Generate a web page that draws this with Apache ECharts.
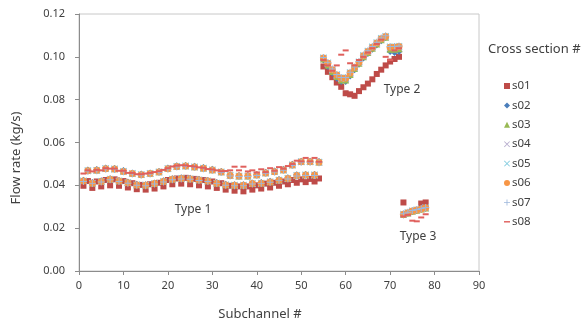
<!DOCTYPE html>
<html>
<head>
<meta charset="utf-8">
<script src="https://cdn.jsdelivr.net/npm/echarts@6/dist/echarts.min.js"></script>
<style>
  html, body { margin: 0; padding: 0; background: #fff; }
  #chart { width: 587px; height: 326px; }
</style>
</head>
<body>
<div id="chart"></div>
<script>
// subchannel numbers (type 1: 1-54, type 2: 55-72, type 3: 73-78)
const subchannels = [1,2,3,4,5,6,7,8,9,10,11,12,13,14,15,16,17,18,19,20,
  21,22,23,24,25,26,27,28,29,30,31,32,33,34,35,36,37,38,39,40,
  41,42,43,44,45,46,47,48,49,50,51,52,53,54,
  55,56,57,58,59,60,61,62,63,64,65,66,67,68,69,70,71,72,
  73,74,75,76,77,78];

const xTicks = [0, 10, 20, 30, 40, 50, 60, 70, 80, 90];
const yTicks = [0, 0.02, 0.04, 0.06, 0.08, 0.10, 0.12];

const s01 = [.0398,.0420,.0388,.0418,.0395,.0425,.0400,.0428,.0398,.0420,
  .0390,.0410,.0382,.0402,.0380,.0405,.0385,.0412,.0395,.0425,
  .0405,.0432,.0408,.0435,.0405,.0430,.0400,.0425,.0395,.0418,
  .0388,.0410,.0380,.0398,.0375,.0395,.0372,.0395,.0380,.0400,
  .0385,.0408,.0390,.0412,.0398,.0418,.0405,.0425,.0412,.0428,
  .0415,.0430,.0418,.0432,
  .0955,.0930,.0905,.0880,.0860,.0830,.0825,.0818,.0840,.0858,.0875,.0895,.0920,.0940,.0960,.0978,.0990,.1000,
  .0320,.0270,.0280,.0285,.0315,.0320];

const s02 = [.0424,.0472,.0413,.0474,.0421,.0481,.0431,.0479,.0423,.0469,
  .0415,.0458,.0405,.0453,.0403,.0458,.0411,.0465,.0421,.0481,
  .0431,.0491,.0435,.0493,.0433,.0489,.0428,.0483,.0423,.0475,
  .0413,.0465,.0405,.0449,.0403,.0446,.0403,.0446,.0411,.0451,
  .0413,.0461,.0419,.0467,.0427,.0475,.0435,.0498,.0449,.0513,
  .0451,.0513,.0451,.0511,
  .0985,.0955,.0925,.0900,.0885,.0885,.0910,.0940,.0965,.0995,.1015,.1035,.1055,.1075,.1090,.1025,.1020,.1025,
  .0262,.0270,.0278,.0283,.0288,.0293];

const s03 = [.0422,.0470,.0411,.0472,.0419,.0479,.0429,.0477,.0421,.0467,
  .0413,.0456,.0403,.0451,.0401,.0456,.0409,.0463,.0419,.0479,
  .0429,.0489,.0433,.0491,.0431,.0487,.0426,.0481,.0421,.0473,
  .0411,.0463,.0403,.0447,.0401,.0444,.0401,.0444,.0409,.0449,
  .0411,.0459,.0417,.0465,.0425,.0473,.0433,.0496,.0447,.0511,
  .0449,.0511,.0449,.0509,
  .0990,.0962,.0932,.0908,.0892,.0892,.0918,.0945,.0970,.1000,.1020,.1040,.1060,.1080,.1092,.1035,.1035,.1038,
  .0264,.0271,.0279,.0284,.0289,.0294];

const s04 = [.0419,.0467,.0409,.0469,.0417,.0477,.0427,.0475,.0419,.0464,
  .0411,.0454,.0401,.0449,.0399,.0454,.0407,.0461,.0417,.0477,
  .0427,.0487,.0431,.0489,.0429,.0485,.0424,.0479,.0419,.0471,
  .0409,.0461,.0401,.0445,.0399,.0442,.0399,.0442,.0407,.0447,
  .0409,.0457,.0415,.0463,.0423,.0471,.0431,.0494,.0445,.0509,
  .0447,.0509,.0447,.0507,
  .0993,.0968,.0938,.0913,.0898,.0898,.0923,.0948,.0973,.1003,.1023,.1043,.1063,.1083,.1093,.1043,.1043,.1046,
  .0264,.0271,.0279,.0284,.0289,.0294];

const s05 = [.0421,.0469,.0411,.0471,.0419,.0479,.0429,.0477,.0421,.0466,
  .0413,.0456,.0403,.0451,.0401,.0456,.0409,.0463,.0419,.0479,
  .0429,.0489,.0433,.0491,.0431,.0487,.0426,.0481,.0421,.0473,
  .0411,.0463,.0403,.0447,.0401,.0444,.0401,.0444,.0409,.0449,
  .0411,.0459,.0417,.0465,.0425,.0473,.0433,.0496,.0447,.0511,
  .0449,.0511,.0449,.0509,
  .0996,.0972,.0942,.0917,.0902,.0902,.0927,.0952,.0977,.1007,.1027,.1047,.1067,.1087,.1096,.1047,.1047,.1050,
  .0266,.0273,.0281,.0286,.0291,.0296];

const s06 = [.0420,.0468,.0410,.0470,.0418,.0478,.0428,.0476,.0420,.0465,
  .0412,.0455,.0402,.0450,.0400,.0455,.0408,.0462,.0418,.0478,
  .0428,.0488,.0432,.0490,.0430,.0486,.0425,.0480,.0420,.0472,
  .0410,.0462,.0402,.0446,.0400,.0443,.0400,.0443,.0408,.0448,
  .0410,.0458,.0416,.0464,.0424,.0472,.0432,.0495,.0446,.0510,
  .0448,.0510,.0448,.0508,
  .0995,.0970,.0940,.0915,.0900,.0900,.0925,.0950,.0975,.1005,.1025,.1045,.1065,.1085,.1095,.1045,.1045,.1048,
  .0265,.0272,.0280,.0285,.0290,.0295];

const s07 = [.0418,.0466,.0408,.0468,.0416,.0476,.0426,.0474,.0418,.0463,
  .0410,.0453,.0400,.0448,.0398,.0453,.0406,.0460,.0416,.0476,
  .0426,.0486,.0430,.0488,.0428,.0484,.0423,.0478,.0418,.0470,
  .0408,.0460,.0400,.0444,.0398,.0441,.0398,.0441,.0406,.0446,
  .0408,.0456,.0414,.0462,.0422,.0470,.0430,.0493,.0444,.0508,
  .0446,.0508,.0446,.0506,
  .0997,.0973,.0943,.0918,.0903,.0903,.0928,.0953,.0978,.1008,.1028,.1048,.1068,.1088,.1098,.1048,.1048,.1051,
  .0267,.0274,.0282,.0287,.0292,.0297];

const s08 = [.0455,.0470,.0465,.0472,.0470,.0480,.0478,.0478,.0468,.0468,
  .0458,.0458,.0452,.0452,.0455,.0458,.0462,.0466,.0472,.0480,
  .0488,.0492,.0494,.0493,.0490,.0488,.0484,.0482,.0476,.0474,
  .0470,.0466,.0467,.0470,.0487,.0470,.0487,.0465,.0470,.0460,
  .0475,.0462,.0480,.0468,.0485,.0478,.0490,.0500,.0515,.0512,
  .0528,.0512,.0528,.0510,
  .0985,.0960,.0935,.0960,.1010,.1030,.0970,.0960,.0985,.1000,.1020,.1040,.1060,.1080,.1000,.0985,.1030,.1040,
  .0255,.0262,.0235,.0232,.0250,.0265];

const seriesNames = ['s01', 's02', 's03', 's04', 's05', 's06', 's07', 's08'];
const seriesValues = [s01, s02, s03, s04, s05, s06, s07, s08];

const PLUS = 'path://M4.3,0H5.7V4.3H10V5.7H5.7V10H4.3V5.7H0V4.3H4.3Z';
const CROSS = 'path://M0,1L1,0L5,4L9,0L10,1L6,5L10,9L9,10L5,6L1,10L0,9L4,5Z';
const DASH = 'path://M0,0H10V2.4H0Z';

const markers = {
  s01: { symbol: 'rect', size: 6, color: '#BE4B48' },
  s02: { symbol: 'diamond', size: 7, color: '#4A7EBB' },
  s03: { symbol: 'triangle', size: 7, color: '#98B954' },
  s04: { symbol: CROSS, size: 7, color: '#B9AFCF' },
  s05: { symbol: CROSS, size: 7, color: '#86CDE0' },
  s06: { symbol: 'circle', size: 7, color: '#F79646' },
  s07: { symbol: PLUS, size: 7, color: '#9DB7DB' },
  s08: { symbol: DASH, size: [6, 2], color: '#E0605D' }
};

const textColor = '#404040';
const fontFamily = '"Noto Sans", "Open Sans", sans-serif';

const chart = echarts.init(document.getElementById('chart'), null, { renderer: 'canvas' });

const series = seriesNames.map((name, k) => ({
  name: name,
  type: 'scatter',
  symbol: markers[name].symbol,
  symbolSize: markers[name].size,
  itemStyle: { color: markers[name].color, opacity: 1 },
  emphasis: { disabled: true },
  animation: false,
  data: subchannels.map((x, i) => [x, seriesValues[k][i]])
}));

chart.setOption({
  backgroundColor: '#ffffff',
  animation: false,
  textStyle: { fontFamily: fontFamily },
  grid: {
    left: 79, right: 108, top: 14, bottom: 55,
    show: true, borderColor: '#C8C8C8', borderWidth: 1
  },
  xAxis: {
    type: 'value',
    min: xTicks[0], max: xTicks[xTicks.length - 1], interval: 10,
    axisLine: { show: true, lineStyle: { color: '#8C8C8C' } },
    axisTick: { show: true, length: 4, lineStyle: { color: '#8C8C8C' } },
    axisLabel: { color: textColor, fontSize: 11, margin: 9, fontFamily: fontFamily },
    splitLine: { show: false }
  },
  yAxis: {
    type: 'value',
    min: yTicks[0], max: yTicks[yTicks.length - 1], interval: 0.02,
    axisLine: { show: true, lineStyle: { color: '#8C8C8C' } },
    axisTick: { show: true, length: 4, lineStyle: { color: '#8C8C8C' } },
    axisLabel: {
      color: textColor, fontSize: 11, margin: 14, fontFamily: fontFamily,
      formatter: v => v.toFixed(2)
    },
    splitLine: { show: false }
  },
  legend: {
    orient: 'vertical',
    left: 499, top: 75,
    itemWidth: 6, itemHeight: 6, itemGap: 7.4,
    symbolKeepAspect: true,
    textStyle: { color: textColor, fontSize: 11.5, fontFamily: fontFamily, padding: [0, 0, 0, -3] },
    data: seriesNames.map(n => n === 's08' ? { name: n, icon: DASH } : { name: n })
  },
  graphic: [
    { type: 'text', left: 488, top: 43,
      style: { text: 'Cross section #', fill: textColor, font: '13px ' + fontFamily } },
    { type: 'text', x: 260, y: 314,
      style: { text: 'Subchannel #', fill: textColor, font: '13px ' + fontFamily, align: 'center', verticalAlign: 'middle' } },
    { type: 'text', x: 16, y: 158, rotation: Math.PI / 2,
      style: { text: 'Flow rate (kg/s)', fill: textColor, font: '13px ' + fontFamily, align: 'center', verticalAlign: 'middle' } },
    { type: 'text', x: 193, y: 210,
      style: { text: 'Type 1', fill: textColor, font: '12px ' + fontFamily, align: 'center', verticalAlign: 'middle' } },
    { type: 'text', x: 402, y: 90,
      style: { text: 'Type 2', fill: textColor, font: '12px ' + fontFamily, align: 'center', verticalAlign: 'middle' } },
    { type: 'text', x: 418, y: 237,
      style: { text: 'Type 3', fill: textColor, font: '12px ' + fontFamily, align: 'center', verticalAlign: 'middle' } }
  ],
  series: series
});
</script>
</body>
</html>
